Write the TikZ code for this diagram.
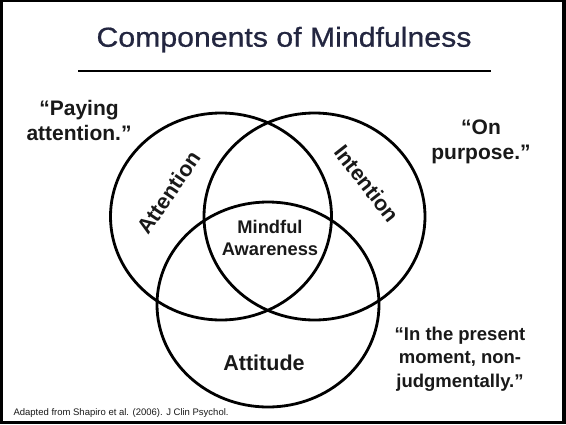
\documentclass[tikz,border=0pt]{standalone}
\usepackage{fontspec}
\setmainfont{Liberation Sans}
\newfontfamily\titlefont[FakeBold=0.7]{Liberation Sans}
\usepackage{graphicx}
\definecolor{titlecol}{RGB}{35,38,64}
\definecolor{inkcol}{RGB}{25,25,25}
\tikzset{
  ring/.style={draw=black, line width=2.8pt},
  quotetext/.style={font=\bfseries\fontsize{21}{25}\selectfont, text=inkcol, align=center, inner sep=0pt},
  smallquote/.style={font=\bfseries\fontsize{18.5}{23.3}\selectfont, text=inkcol, align=center, inner sep=0pt},
  ringlabel/.style={font=\bfseries\fontsize{21.5}{24}\selectfont, text=inkcol, inner sep=0pt},
  corelabel/.style={font=\bfseries\fontsize{18.3}{22.4}\selectfont, text=inkcol, align=center, inner sep=0pt},
}
\begin{document}
\begin{tikzpicture}[x=1pt,y=-1pt]
\useasboundingbox (0,0) rectangle (566,424);
\fill[white] (0,0) rectangle (566,424);
% slide frame
\fill[black] (0,0) rectangle (3.3,424);
\fill[black] (0,0) rectangle (566,1.5);
\fill[black] (562,0) rectangle (565.5,424);
\fill[black] (0,420.5) rectangle (566,424);
% title
\node[font=\titlefont\fontsize{27.5}{30}\selectfont, text=titlecol, anchor=base, inner sep=0pt] (title) at (284,46.7) {\scalebox{1.1}[1]{Components of Mindfulness}};
\coordinate (ulA) at (78,71);
\coordinate (ulB) at (491,71);
\draw[line width=2.2pt, black] (ulA) -- (ulB);
% rings
\draw[ring] (221,216.5) ellipse [x radius=110.5, y radius=103.5];
\draw[ring] (314.5,216.5) ellipse [x radius=110.5, y radius=103.5];
\draw[ring] (268,304.5) ellipse [x radius=111, y radius=102.5];
% ring labels
\node[ringlabel, rotate=56] (attention) at (169,192.5) {Attention};
\node[ringlabel, rotate=-52] (intention) at (367,183.7) {Intention};
\node[ringlabel, anchor=base] (attitude) at (264,370.7) {Attitude};
\node[corelabel] (core) at (270,237.8) {Mindful\\Awareness};
% quotes
\node[quotetext] (qpay) at (79,120.5) {“Paying\\attention.”};
\node[quotetext] (qon) at (481,142) {“On\\purpose.”};
\node[smallquote] (qpresent) at (460,359) {“In the present\\moment, non-\\judgmentally.”};
% citation
\node[font=\fontsize{9.5}{11}\selectfont, text=inkcol, anchor=base west, inner sep=0pt] (cite) at (13.3,415.7) {Adapted from Shapiro et al. (2006). J Clin Psychol.};
\end{tikzpicture}
\end{document}
